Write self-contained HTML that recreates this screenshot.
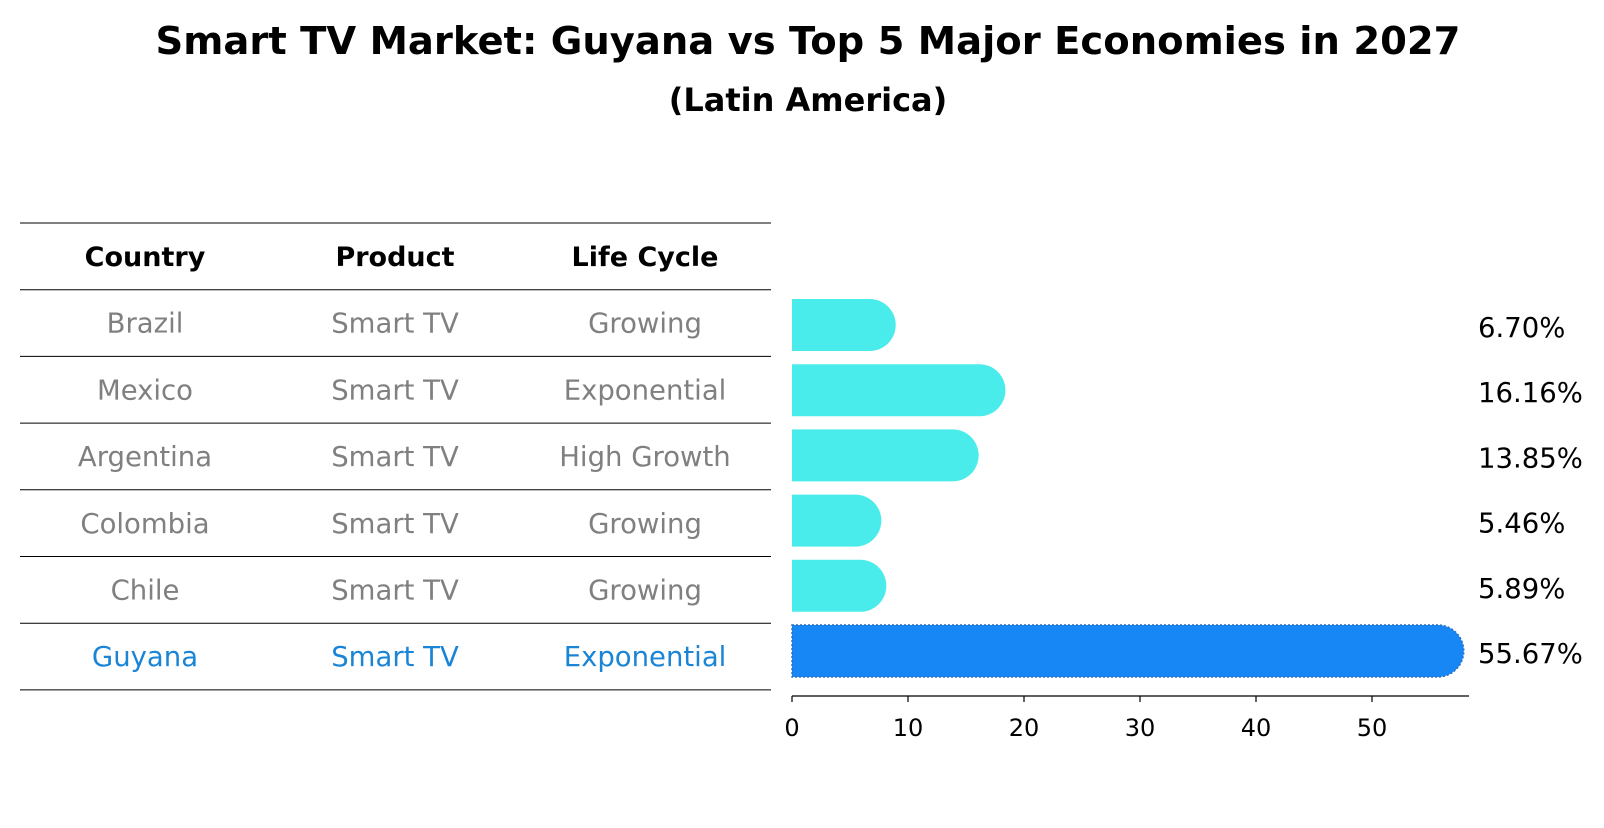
<!DOCTYPE html>
<html><head><meta charset="utf-8"><style>
body{margin:0;background:#fff;font-family:"Liberation Sans","DejaVu Sans",sans-serif}
</style></head><body>
<svg width="1604" height="823" xmlns="http://www.w3.org/2000/svg" font-family="DejaVu Sans, Liberation Sans, sans-serif">
<text x="808" y="54" text-anchor="middle" font-size="38.5" font-weight="bold">Smart TV Market: Guyana vs Top 5 Major Economies in 2027</text>
<text x="808" y="111" text-anchor="middle" font-size="32" font-weight="bold">(Latin America)</text>
<g id="table"></g>
<g id="bars"></g>
</svg>
<script>
const countries=["Brazil","Mexico","Argentina","Colombia","Chile","Guyana"];
const products=["Smart TV","Smart TV","Smart TV","Smart TV","Smart TV","Smart TV"];
const lifecycles=["Growing","Exponential","High Growth","Growing","Growing","Exponential"];
const values=[6.70,16.16,13.85,5.46,5.89,55.67];
const ticks=[0,10,20,30,40,50];
const NS="http://www.w3.org/2000/svg";
function mk(t,a,p,txt){const e=document.createElementNS(NS,t);for(const k in a)e.setAttribute(k,a[k]);if(txt!==undefined)e.textContent=txt;p.appendChild(e);return e;}
const tbl=document.getElementById('table');
const lineY=i=>223+i*66.7;
for(let i=0;i<=7;i++){const l=mk('line',{x1:20,x2:771,y1:lineY(i),y2:lineY(i),stroke:'#000','stroke-width':1},tbl);

}
const cols=[145,395,645];
["Country","Product","Life Cycle"].forEach((h,j)=>{const t=mk('text',{x:cols[j],y:lineY(0)+43,'text-anchor':'middle','font-size':27,'font-weight':'bold'},tbl,h);

});
countries.forEach((c,i)=>{const col=c==="Guyana"?"#1a85d6":"#808080";
[c,products[i],lifecycles[i]].forEach((v,j)=>{const t=mk('text',{x:cols[j],y:lineY(i+1)+43,'text-anchor':'middle','font-size':27.5,fill:col},tbl,v);

});});
const g=document.getElementById('bars');
const x0=792,ppu=11.6,xs=v=>x0+v*ppu;
const yc=i=>325+i*65.2,h=52;
values.forEach((v,i)=>{const guy=countries[i]==="Guyana";const y=yc(i)-h/2,xe=xs(v),r=h/2;
const p=mk('path',{d:`M${x0},${y}H${xe}A${r},${r} 0 0 1 ${xe},${y+h}H${x0}Z`,fill:guy?'#1787f5':'#4aeceb',stroke:guy?'#2a6fc0':'none','stroke-width':guy?1.5:0,'stroke-dasharray':guy?'2,2':''},g);


const t=mk('text',{x:1478,y:yc(i)+12,'font-size':27.5},g,values[i].toFixed(2)+'%');

});
const ax=mk('line',{x1:x0,x2:1469,y1:696,y2:696,stroke:'#000','stroke-width':1.2},g);


ticks.forEach(tv=>{const l=mk('line',{x1:xs(tv),x2:xs(tv),y1:696,y2:702,stroke:'#000','stroke-width':1.2},g);


const t=mk('text',{x:xs(tv),y:736,'text-anchor':'middle','font-size':24},g,String(tv));

});
</script>
</body></html>
